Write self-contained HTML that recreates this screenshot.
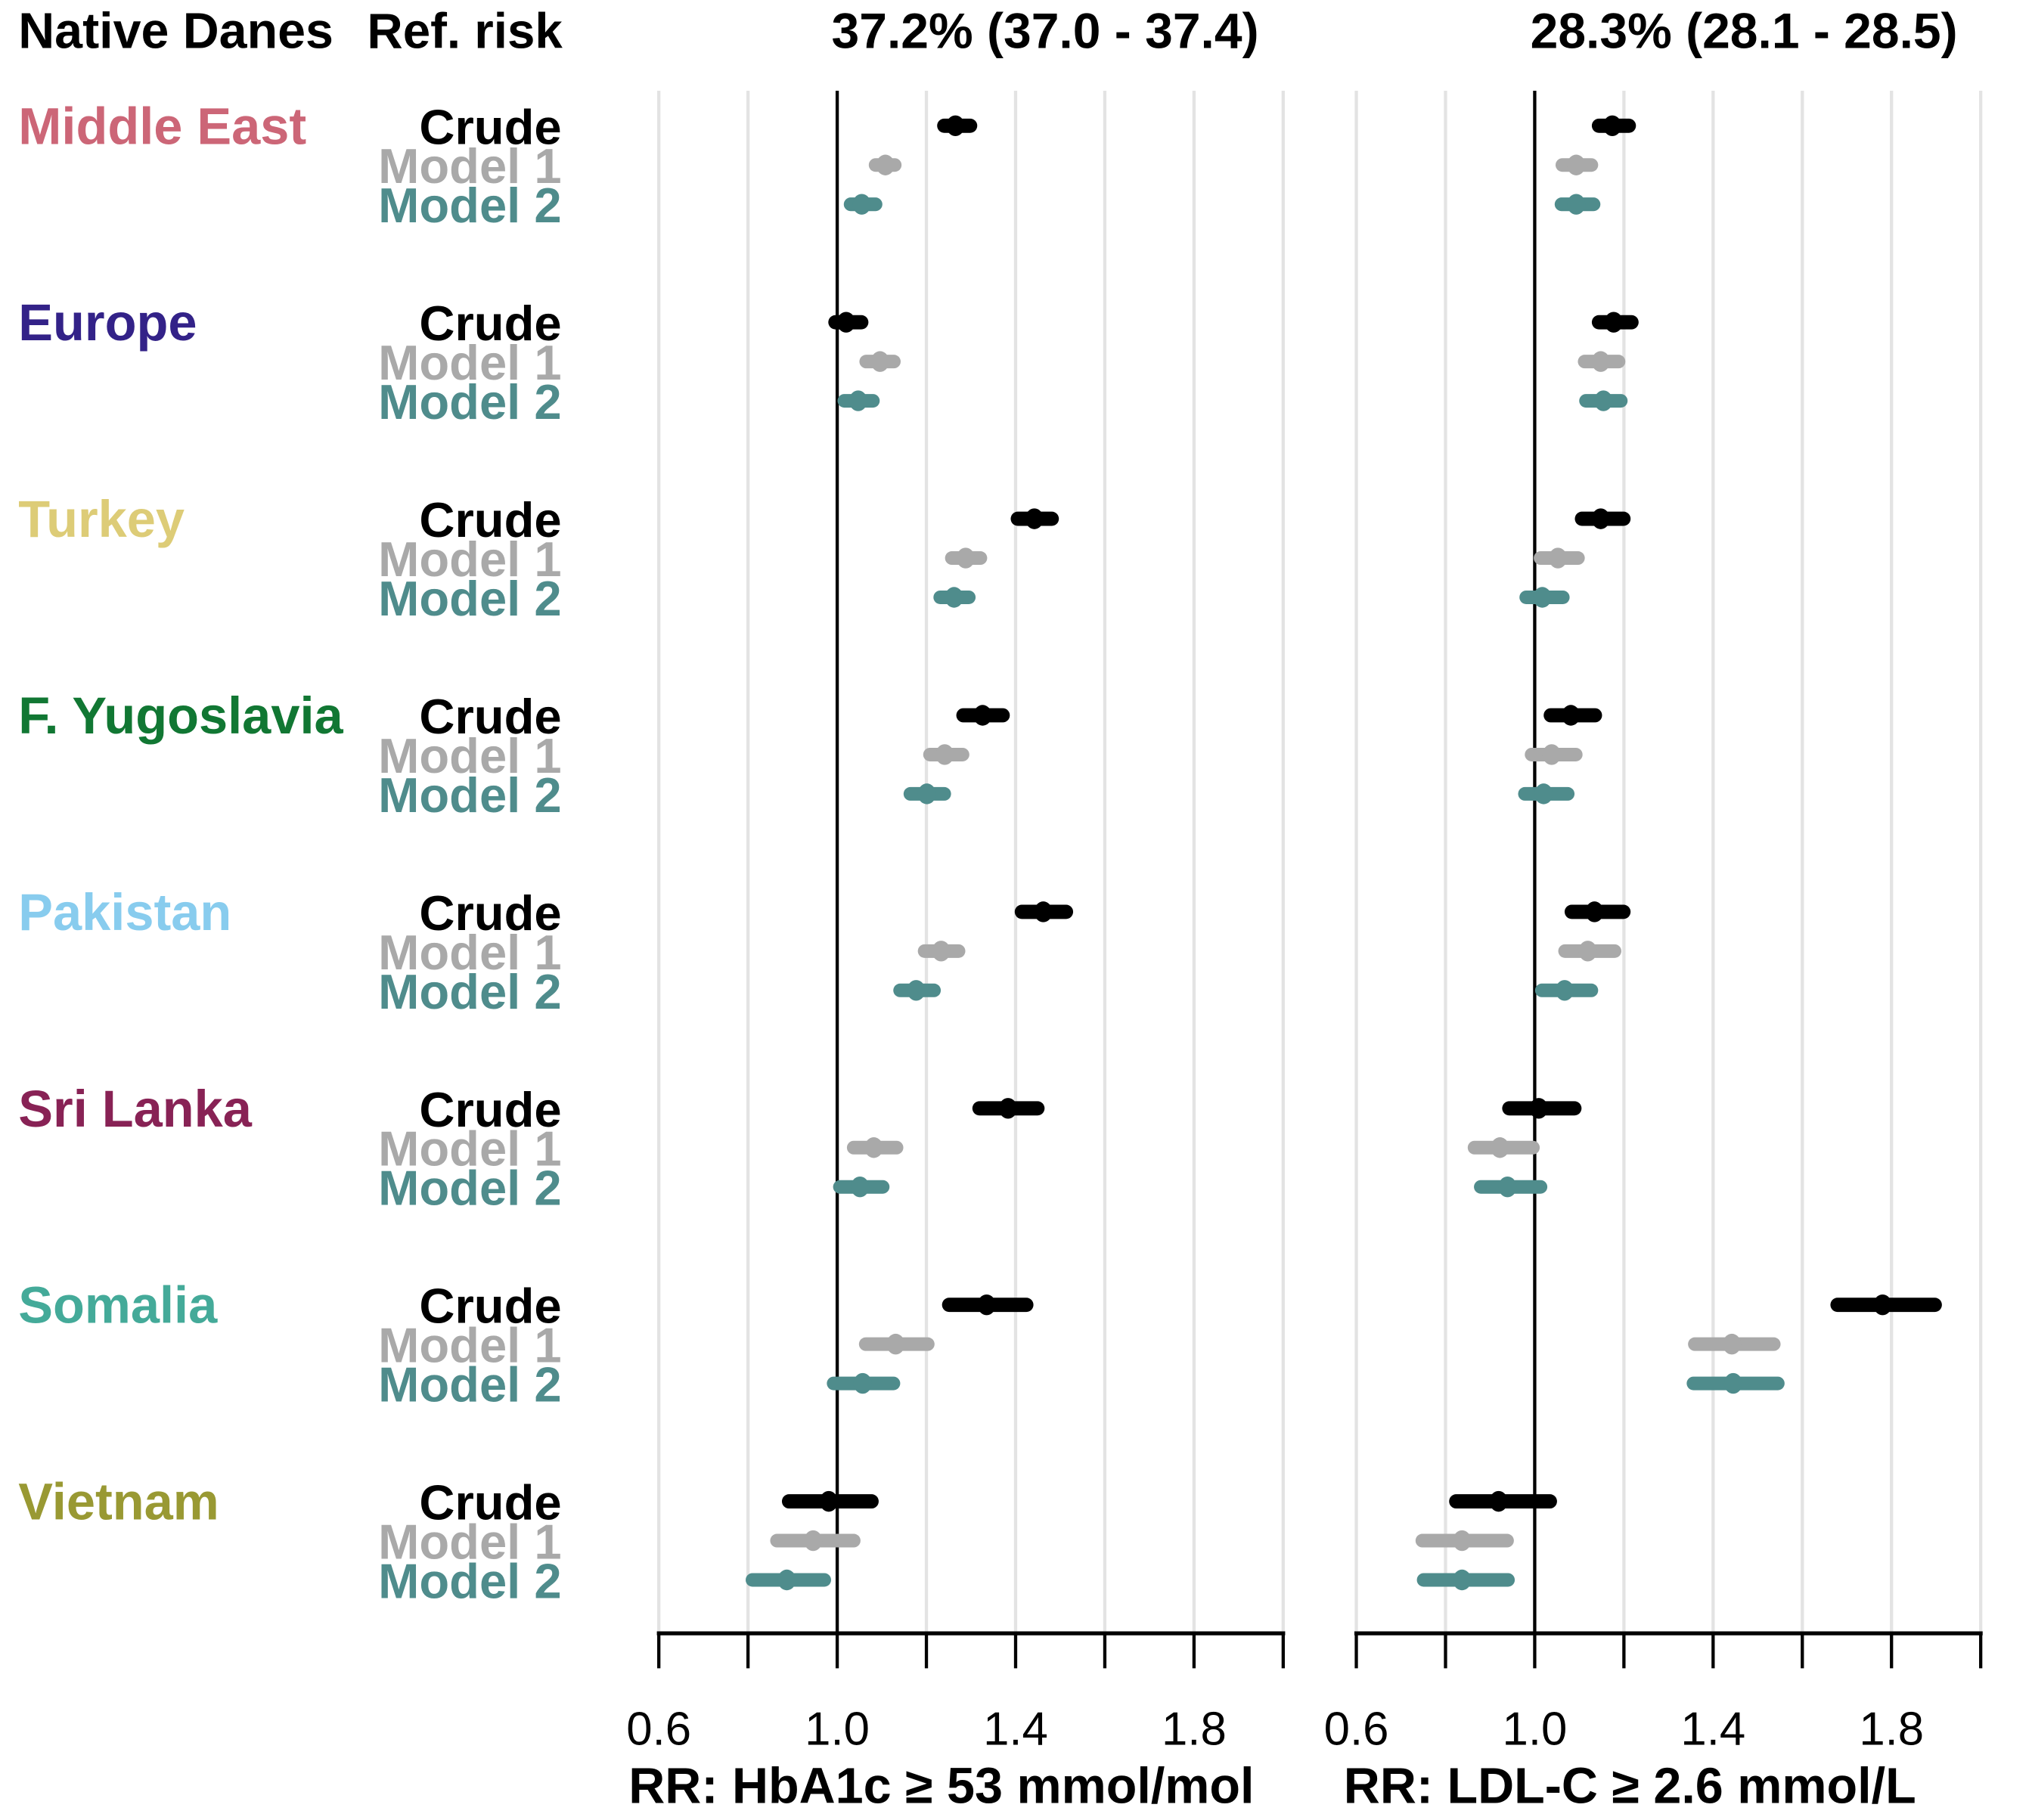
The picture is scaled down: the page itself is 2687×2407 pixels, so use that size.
<!DOCTYPE html>
<html><head><meta charset="utf-8"><style>
html,body{margin:0;padding:0;background:#fff}
svg{display:block}
text{font-family:"Liberation Sans",Arial,sans-serif}
</style></head><body>
<svg id="chart" width="2687" height="2407" viewBox="0 0 1567 1404" xmlns="http://www.w3.org/2000/svg">
<g id="static">
<text x="14" y="37" font-size="38.7" font-weight="bold">Native Danes</text>
<text x="283" y="37" font-size="38.2" font-weight="bold">Ref. risk</text>
<text x="806" y="37" font-size="38.5" font-weight="bold" text-anchor="middle">37.2% (37.0 - 37.4)</text>
<text x="1345" y="37" font-size="38.5" font-weight="bold" text-anchor="middle">28.3% (28.1 - 28.5)</text>
<text x="726" y="1391" font-size="38.8" font-weight="bold" text-anchor="middle">RR: HbA1c ≥ 53 mmol/mol</text>
<text x="1257" y="1391" font-size="38.8" font-weight="bold" text-anchor="middle">RR: LDL-C ≥ 2.6 mmol/L</text>
</g>
<g id="dyn"></g>
</svg>
<script>
const groups = ["Middle East","Europe","Turkey","F. Yugoslavia","Pakistan","Sri Lanka","Somalia","Vietnam"];
const groupColors = ["#CC6677","#332288","#DDCC77","#117733","#88CCEE","#882255","#44AA99","#999933"];
const models = ["Crude","Model 1","Model 2"];
const modelColors = ["#000000","#A9A9A9","#4F8C8C"];
const xTicks = [0.6,0.8,1.0,1.2,1.4,1.6,1.8,2.0];
const xTickLabels = ["0.6","","1.0","","1.4","","1.8",""];
// HbA1c
const hbaEst = [[1.265,1.108,1.055],[1.020,1.096,1.047],[1.442,1.288,1.262],[1.326,1.241,1.201],[1.462,1.233,1.177],[1.383,1.082,1.051],[1.335,1.131,1.057],[0.981,0.946,0.887]];
const hbaLo  = [[1.240,1.086,1.030],[0.996,1.065,1.016],[1.405,1.257,1.231],[1.283,1.208,1.164],[1.414,1.196,1.141],[1.319,1.037,1.006],[1.251,1.064,0.992],[0.892,0.865,0.810]];
const hbaHi  = [[1.298,1.129,1.086],[1.054,1.127,1.080],[1.481,1.321,1.295],[1.371,1.281,1.240],[1.513,1.272,1.217],[1.449,1.133,1.102],[1.424,1.203,1.126],[1.077,1.037,0.971]];
// LDL-C
const ldlEst = [[1.174,1.093,1.093],[1.177,1.148,1.154],[1.148,1.052,1.017],[1.081,1.038,1.020],[1.134,1.119,1.067],[1.009,0.922,0.939],[1.780,1.442,1.445],[0.919,0.837,0.837]];
const ldlLo  = [[1.144,1.062,1.060],[1.144,1.112,1.115],[1.106,1.013,0.981],[1.036,0.993,0.978],[1.083,1.068,1.016],[0.943,0.865,0.879],[1.679,1.359,1.356],[0.824,0.748,0.751]];
const ldlHi  = [[1.211,1.127,1.132],[1.217,1.188,1.193],[1.199,1.097,1.063],[1.135,1.092,1.074],[1.199,1.179,1.127],[1.089,0.996,1.013],[1.897,1.536,1.545],[1.034,0.938,0.940]];

const NS="http://www.w3.org/2000/svg";
const root=document.getElementById('dyn');
function mk(tag,attrs,parent){const e=document.createElementNS(NS,tag);for(const k in attrs)e.setAttribute(k,attrs[k]);(parent||root).appendChild(e);return e;}
const panels=[{x0:508,name:"hba1c",est:hbaEst,lo:hbaLo,hi:hbaHi},{x0:1046,name:"ldl",est:ldlEst,lo:ldlLo,hi:ldlHi}];
const pxPerUnit=344;
function yRow(g,m){return 97+g*151.6+m*30.3;}
panels.forEach(p=>{
  const sx=v=>p.x0+(v-0.6)*pxPerUnit;
  xTicks.forEach((t,i)=>{
    const gl=mk('line',{x1:sx(t),x2:sx(t),y1:70,y2:1260,stroke:'#E3E3E3','stroke-width':2.5});
    
    
  });
  const ref=mk('line',{x1:sx(1),x2:sx(1),y1:70,y2:1260,stroke:'#000','stroke-width':2.5});
  
  
  const ax=mk('line',{x1:sx(xTicks[0])-1.5,x2:sx(xTicks[xTicks.length-1])+1.5,y1:1260,y2:1260,stroke:'#000','stroke-width':3});
  
  
  xTicks.forEach((t,i)=>{
    const tk=mk('line',{x1:sx(t),x2:sx(t),y1:1260,y2:1287,stroke:'#000','stroke-width':2.5});
    
    
    if(xTickLabels[i]){
      const tl=mk('text',{x:sx(t),y:1346,'font-size':36,'text-anchor':'middle'});
      tl.textContent=xTickLabels[i];
      
      
    }
  });
  groups.forEach((g,gi)=>{
    models.forEach((m,mi)=>{
      const y=yRow(gi,mi);
      const ci=mk('line',{x1:sx(p.lo[gi][mi]),x2:sx(p.hi[gi][mi]),y1:y,y2:y,stroke:modelColors[mi],'stroke-width':mi===0?11:10.5,'stroke-linecap':'round'});
      
      
      const pt=mk('ellipse',{cx:sx(p.est[gi][mi]),cy:y,rx:7,ry:8,fill:modelColors[mi]});
      
      
    });
  });
});
groups.forEach((g,gi)=>{
  const gl=mk('text',{x:14,y:yRow(gi,0)+14,'font-size':40,'font-weight':'bold',fill:groupColors[gi]});
  gl.textContent=g;
  
  
  models.forEach((m,mi)=>{
    const t=mk('text',{x:433,y:yRow(gi,mi)+14,'font-size':38,'font-weight':'bold','text-anchor':'end',fill:modelColors[mi]});
    t.textContent=m;
    
    
  });
});
</script>
</body></html>
